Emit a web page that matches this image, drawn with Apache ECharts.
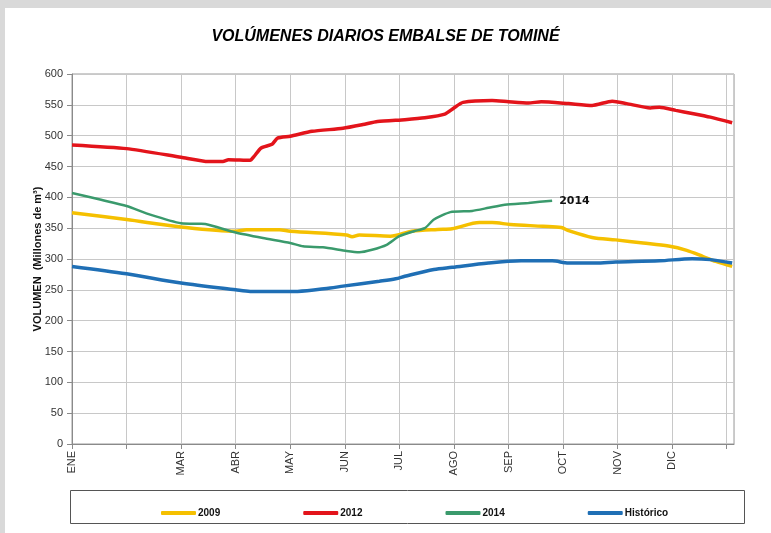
<!DOCTYPE html>
<html>
<head>
<meta charset="utf-8">
<script src="https://cdn.jsdelivr.net/npm/echarts@6/dist/echarts.min.js"></script>
<style>
html,body{margin:0;padding:0;background:#d9d9d9;}
#frame{position:absolute;left:5px;top:8px;width:766px;height:525px;background:#fff;}
#chart{position:absolute;left:0;top:0;width:771px;height:533px;}
</style>
</head>
<body>
<div id="frame"></div>
<div id="chart"></div>
<script>
// Month tick labels (one every 30 days)
const monthLabels = ['ENE','','MAR','ABR','MAY','JUN','JUL','AGO','SEP','OCT','NOV','DIC',''];

// 2009
const days2009 = [0,30,60,90,96,114,120,151,154,158,175,187,201,209,224,231,241,259,269,273,286,299,314,328,338,347,354,363];
const vals2009 = [375,364,352,345,347.5,347.5,345,339,336,339,337,345,348,349,359,359,356,353,351,346,335,331,326,321,314,304,296,288];

// 2012
const days2012 = [0,30,60,75,83,86,98,100,104,110,113,120,132,149,160,168,183,194,205,210,215,231,240,251,258,273,286,297,305,318,323,332,341,351,363];
const vals2012 = [485,479,465,458,458,461,460,466,480,486,496,499,507,512,518,523,526,529,535,545,554,557,555,553,555,552,549,556,552,545,546,541,536,530,521];

// 2014
const days2014 = [0,16,30,43,60,71,75,90,105,120,127,138,151,158,165,173,180,188,194,199,208,220,229,238,251,264];
const vals2014 = [407,396,386,372,358,357,355.6,343,334,326,320.5,319,313,311,315,323,337,345,350,364,376,378,383,388,391,394.5];

// Histórico
const daysHist = [0,30,60,90,98,124,142,149,169,178,183,199,209,229,247,264,273,288,299,323,341,351,363];
const valsHist = [288,276,261,250,247.5,247.5,253,256,264,268,272,283,286.5,293.5,297,297,293.5,293.5,295,297,300.5,299,293.5];

const pairs = (d, v) => d.map((x, i) => [x, v[i]]);

const chart = echarts.init(document.getElementById('chart'), null, {renderer: 'canvas'});
const axisFont = {fontFamily: 'Liberation Sans, Arial, sans-serif', fontSize: 11, color: '#333'};

chart.setOption({
  backgroundColor: 'transparent',
  animation: false,
  title: {
    text: 'VOLÚMENES DIARIOS EMBALSE DE TOMINÉ',
    left: 'center',
    top: 24,
    textStyle: {fontFamily: 'Liberation Sans, Arial, sans-serif', fontSize: 16, fontWeight: 'bold', fontStyle: 'italic', color: '#000'}
  },
  grid: {left: 72, right: 37, top: 74, bottom: 89, show: true, borderColor: '#9a9a9a', borderWidth: 1, containLabel: false, outerBoundsMode: 'none'},
  legend: {
    top: 503, left: 156, itemGap: 83, itemWidth: 35, itemHeight: 4, icon: 'roundRect',
    textStyle: {fontFamily: 'Liberation Sans Narrow, Liberation Sans, Arial, sans-serif', fontSize: 10, fontWeight: 'bold', color: '#111', padding: [0,0,0,-3]},
    data: ['2009','2012','2014','Histórico']
  },
  graphic: [{
    type: 'rect', z: -1, shape: {x: 70.5, y: 490.5, width: 674, height: 33},
    style: {fill: '#fff', stroke: '#555', lineWidth: 1}
  }],
  xAxis: {
    type: 'value', min: 0, max: 364, interval: 30,
    axisLine: {show: true, lineStyle: {color: '#8a8a8a'}},
    axisTick: {show: true, length: 5, lineStyle: {color: '#8a8a8a'}},
    splitLine: {show: true, lineStyle: {color: '#c8c8c8'}},
    axisLabel: Object.assign({rotate: 90, margin: 7, showMaxLabel: false,
      formatter: v => (v % 30 === 0 && monthLabels[v / 30] !== undefined) ? monthLabels[v / 30] : ''}, axisFont)
  },
  yAxis: {
    type: 'value', min: 0, max: 600, interval: 50,
    name: 'VOLUMEN  (Millones de m³)', nameLocation: 'middle', nameGap: 29, nameMoveOverlap: false,
    nameTextStyle: {fontFamily: 'Liberation Sans, Arial, sans-serif', fontSize: 11, fontWeight: 'bold', color: '#111'},
    axisLine: {show: true, lineStyle: {color: '#8a8a8a'}},
    axisTick: {show: true, length: 5, lineStyle: {color: '#8a8a8a'}},
    splitLine: {show: true, lineStyle: {color: '#c8c8c8'}},
    axisLabel: Object.assign({margin: 9}, axisFont)
  },
  series: [
    {name: '2009', type: 'line', data: pairs(days2009, vals2009), showSymbol: false, smooth: 0.3,
     itemStyle: {color: '#f5c000'}, lineStyle: {color: '#f5c000', width: 3.5}},
    {name: '2012', type: 'line', data: pairs(days2012, vals2012), showSymbol: false, smooth: 0.2,
     itemStyle: {color: '#e3141b'}, lineStyle: {color: '#e3141b', width: 3.5}},
    {name: 'Histórico', type: 'line', data: pairs(daysHist, valsHist), showSymbol: false, smooth: 0.3,
     itemStyle: {color: '#1f6fb5'}, lineStyle: {color: '#1f6fb5', width: 3.5}},
    {name: '2014', type: 'line', data: pairs(days2014, vals2014), showSymbol: false, smooth: 0.2,
     itemStyle: {color: '#3a9a6c'}, lineStyle: {color: '#3a9a6c', width: 2.5},
     endLabel: {show: true, formatter: '2014', distance: 7,
       fontFamily: 'DejaVu Sans, sans-serif', fontSize: 11, fontWeight: 'bold', color: '#111'}}
  ]
});
</script>
</body>
</html>
